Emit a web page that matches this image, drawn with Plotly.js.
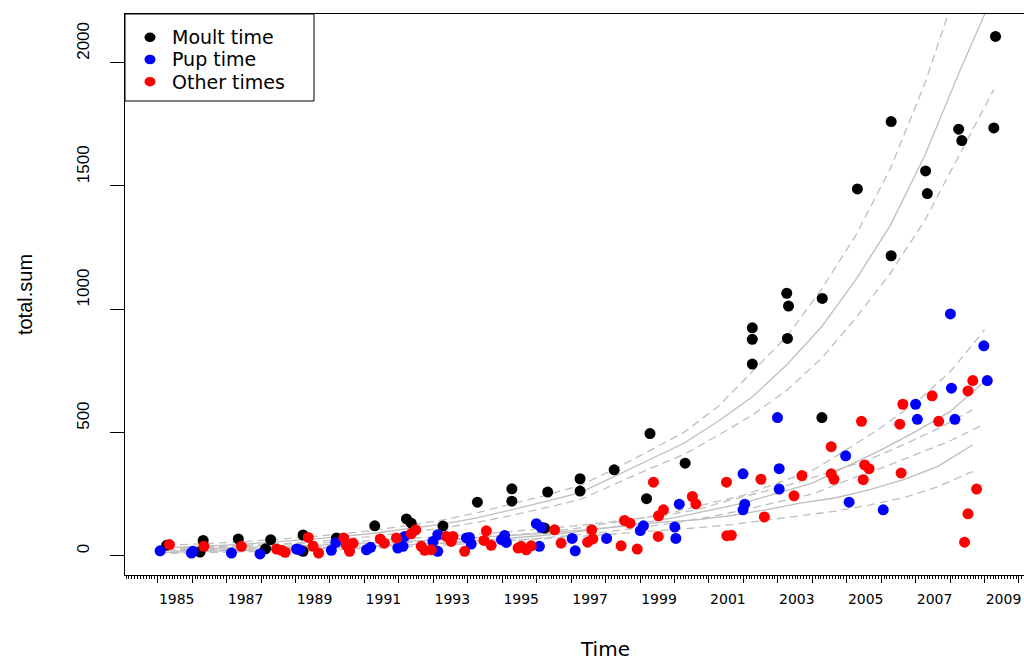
<!DOCTYPE html>
<html><head><meta charset="utf-8">
<script src="https://cdn.plot.ly/plotly-3.0.1.min.js"></script>
<style>html,body{margin:0;padding:0;overflow:hidden;background:#fff;width:1024px;height:662px}</style>
</head><body><div id="chart"></div>
<script>
// ---- observed counts ----
const moultTime = [1985.26,1986.23,1986.32,1987.34,1988.13,1988.28,1989.22,1989.22,1990.19,1991.30,1992.22,1992.36,1993.28,1994.28,1995.28,1995.28,1996.23,1996.32,1997.26,1997.26,1998.25,1999.19,1999.29,2000.31,2002.26,2002.26,2002.26,2003.26,2003.31,2003.28,2004.29,2004.28,2005.31,2006.29,2006.29,2007.29,2007.34,2008.25,2008.34,2009.32,2009.27];
const moultCount = [42,15,62,68,28,65,84,18,72,121,149,132,120,217,271,221,112,258,312,262,348,231,495,375,924,877,777,1064,1012,881,1043,560,1487,1760,1216,1560,1468,1729,1683,2105,1734];

const pupTime = [1985.07,1985.98,1986.02,1987.14,1987.97,1989.03,1989.12,1990.04,1990.17,1991.06,1991.18,1991.97,1992.12,1992.17,1992.99,1993.13,1993.13,1993.96,1994.05,1994.10,1994.98,1995.07,1995.12,1995.99,1996.08,1996.13,1997.03,1997.12,1998.03,1999.01,1999.10,2000.01,2000.04,2000.14,2001.99,2001.99,2002.04,2002.99,2003.04,2003.04,2004.97,2005.07,2006.06,2007.00,2007.05,2008.01,2008.04,2008.14,2008.98,2009.08];
const pupCount = [20,11,18,11,7,27,24,22,54,24,34,31,38,78,58,85,18,72,74,47,65,82,54,130,38,115,70,20,70,102,121,116,70,209,332,186,209,560,353,270,405,217,186,614,553,980,679,553,851,710];

const otherTime = [1985.34,1986.34,1987.43,1988.45,1988.60,1988.70,1989.37,1989.51,1989.67,1990.40,1990.48,1990.57,1990.67,1991.46,1991.58,1991.93,1992.36,1992.49,1992.65,1992.75,1992.94,1993.38,1993.52,1993.57,1993.91,1994.47,1994.54,1994.68,1995.46,1995.55,1995.70,1995.84,1996.52,1996.71,1997.48,1997.60,1997.63,1998.45,1998.55,1998.71,1998.92,1999.39,1999.53,1999.54,1999.68,2000.52,2000.62,2001.51,2001.52,2001.65,2002.51,2002.61,2003.47,2003.70,2004.55,2004.55,2004.63,2005.43,2005.48,2005.52,2005.65,2006.54,2006.58,2006.63,2007.48,2007.67,2008.42,2008.52,2008.52,2008.66,2008.77];
const otherCount = [45,38,38,27,22,14,74,38,11,72,42,18,51,68,51,72,89,105,38,22,24,78,58,78,18,62,101,42,31,38,24,40,105,51,55,105,68,40,143,132,27,298,78,162,186,240,210,298,81,83,310,157,243,325,442,332,310,545,308,368,353,533,335,614,648,545,55,668,170,710,270];

// ---- fitted trends (solid) and bounds (dashed) ----
const moultFitTime = [1985.27,1986.27,1987.27,1988.27,1989.27,1990.27,1991.27,1992.27,1993.27,1994.27,1995.27,1996.27,1997.27,1998.27,1999.27,2000.27,2001.27,2002.27,2003.27,2004.27,2005.27,2006.27,2007.27,2008.27,2009.27];
const moultFit   = [32,38,45,54,64,76,91,108,128,153,186,220,256,321,389,456,545,645,775,928,1120,1340,1623,1961,2280];
const moultUpper = [42,48,55,64,74,87,103,122,145,174,210,245,285,352,425,500,605,746,890,1080,1300,1570,1915,2330,2700];
const moultLower = [24,29,36,44,53,65,79,95,112,135,163,195,228,290,352,410,488,571,672,800,965,1145,1360,1625,1890];

const pupFitTime = [1985,1986,1987,1988,1989,1990,1991,1992,1993,1994,1995,1996,1997,1998,1999,2000,2001,2002,2003,2004,2005,2006,2007,2008,2009];
const pupFit   = [13,16,19,22,26,30,36,42,49,58,68,80,94,111,131,154,182,213,254,294,362,429,503,584,706];
const pupUpper = [18,21,25,28,33,38,44,51,59,68,79,92,108,128,151,178,211,245,295,345,430,520,620,745,915];
const pupLower = [9,11,14,17,20,24,29,35,41,49,58,69,82,96,114,133,157,185,218,250,305,355,410,465,534];

const otherFitTime = [1985.65,1986.65,1987.65,1988.65,1989.65,1990.65,1991.65,1992.65,1993.65,1994.65,1995.65,1996.65,1997.65,1998.65,1999.65,2000.65,2001.65,2002.65,2003.65,2004.65,2005.65,2006.65,2007.65,2008.65];
const otherFit   = [27,30,34,38,43,48,54,61,68,76,86,96,108,121,136,145,163,186,213,234,267,308,362,449];
const otherUpper = [33,37,41,46,51,57,64,72,81,91,102,115,129,145,163,186,227,262,300,345,390,450,515,591];
const otherLower = [21,23,26,29,33,37,41,46,52,58,65,73,82,92,104,113,126,145,163,180,205,235,280,341];

// ---- axis ticks and legend text ----
const yearTicks = [1985,1986,1987,1988,1989,1990,1991,1992,1993,1994,1995,1996,1997,1998,1999,2000,2001,2002,2003,2004,2005,2006,2007,2008,2009,2010];
const yearLabels = ["1985","","1987","","1989","","1991","","1993","","1995","","1997","","1999","","2001","","2003","","2005","","2007","","2009",""];
const yTicks = [0,500,1000,1500,2000];
const yLabels = ["0","500","1000","1500","2000"];
const legendNames = ["Moult time", "Pup time", "Other times"];
const legendColors = ["#000000", "#0000ff", "#ff0000"];

const WIDE = '"DejaVu Sans", Verdana, sans-serif';
const NARROW = '"Liberation Sans", Arial, Helvetica, sans-serif';
const grey = '#bebebe';
const XRANGE = [1984.0508, 2011.946];

// pixel geometry of the figure (plot spans 125..1086 horizontally, 14..575 vertically)
const W = 1086, H = 662, ML = 125, MT = 14, MB = 87;
const PW = W - ML, PH = H - MT - MB;
const px2paperX = p => (p - ML) / PW;
const px2paperY = p => (H - MB - p) / PH;

function fitLine(x, y, dashed) {
  return {x: x, y: y, type: 'scatter', mode: 'lines', showlegend: false, hoverinfo: 'skip',
          line: {color: grey, width: 1.3, dash: dashed ? '8px,5px' : 'solid'}};
}
function pts(x, y, name, color) {
  return {x: x, y: y, type: 'scatter', mode: 'markers', name: name, showlegend: false,
          marker: {color: color, size: 11, line: {width: 0}}};
}

const traces = [
  fitLine(moultFitTime, moultFit, false), fitLine(moultFitTime, moultUpper, true), fitLine(moultFitTime, moultLower, true),
  fitLine(pupFitTime, pupFit, false), fitLine(pupFitTime, pupUpper, true), fitLine(pupFitTime, pupLower, true),
  fitLine(otherFitTime, otherFit, false), fitLine(otherFitTime, otherUpper, true), fitLine(otherFitTime, otherLower, true),
  pts(moultTime, moultCount, legendNames[0], legendColors[0]),
  pts(pupTime, pupCount, legendNames[1], legendColors[1]),
  pts(otherTime, otherCount, legendNames[2], legendColors[2])
];

// hand-built legend box (R style)
const shapes = [{type: 'rect', xref: 'paper', yref: 'paper', x0: 0, x1: px2paperX(314), y0: px2paperY(101), y1: 1,
                 line: {color: '#000', width: 1}, fillcolor: '#fff', layer: 'above'}];
const annotations = [];
const rowY = [37.3, 59.5, 81.7];
legendNames.forEach((n, i) => {
  shapes.push({type: 'circle', xref: 'paper', yref: 'paper', xsizemode: 'pixel', ysizemode: 'pixel',
               xanchor: px2paperX(150), yanchor: px2paperY(rowY[i]), x0: -5.5, x1: 5.5, y0: -4.8, y1: 4.8,
               fillcolor: legendColors[i], line: {width: 0}, layer: 'above'});
  annotations.push({xref: 'paper', yref: 'paper', x: px2paperX(171), y: px2paperY(rowY[i]), xanchor: 'left', yanchor: 'middle',
                    text: n, showarrow: false, borderpad: 0, font: {family: WIDE, size: 19, color: '#000'}});
});

// R-style labels start at their tick: pad with figure spaces so the centred string begins at the tick
const FS = '\u2007';
const padStart = s => FS.repeat(s.length) + s;

// even years keep their tick but show no label
const xAlias = {};
yearTicks.forEach((t, i) => { xAlias[String(t)] = yearLabels[i]; });
xAlias['2011'] = '';

const layout = {
  width: W, height: H,
  margin: {l: ML, r: 0, t: MT, b: MB},
  paper_bgcolor: '#fff', plot_bgcolor: '#fff',
  font: {family: WIDE, color: '#000', size: 14},
  showlegend: false,
  shapes: shapes, annotations: annotations,
  xaxis: {range: XRANGE, tickmode: 'linear', tick0: 1985, dtick: 1, labelalias: xAlias,
          ticks: 'outside', ticklen: 7, tickwidth: 1, tickcolor: '#000', ticklabelshift: 19, ticklabelstandoff: 4,
          showline: true, linecolor: '#000', linewidth: 1, mirror: true, showgrid: false, zeroline: false,
          tickfont: {size: 14, family: WIDE},
          minor: {tickmode: 'linear', tick0: 1985, dtick: 1 / 12, ticks: 'outside', ticklen: 3, tickwidth: 1,
                  tickcolor: '#000', showgrid: false},
          title: {text: 'Time', font: {size: 20, family: WIDE}, standoff: 36}, automargin: false},
  yaxis: {range: [-78.2, 2196], tickmode: 'array', tickvals: yTicks, ticktext: yLabels.map(padStart),
          ticks: 'outside', ticklen: 14, tickwidth: 1, tickcolor: '#000', tickangle: -90, ticklabelstandoff: 14,
          showline: true, linecolor: '#000', linewidth: 1, mirror: false, showgrid: false, zeroline: false,
          tickfont: {size: 17, family: NARROW},
          title: {text: 'total.sum', font: {size: 20, family: NARROW}, standoff: 36}, automargin: false}
};

Plotly.newPlot('chart', traces, layout, {displayModeBar: false, staticPlot: true});
</script>
</body></html>
